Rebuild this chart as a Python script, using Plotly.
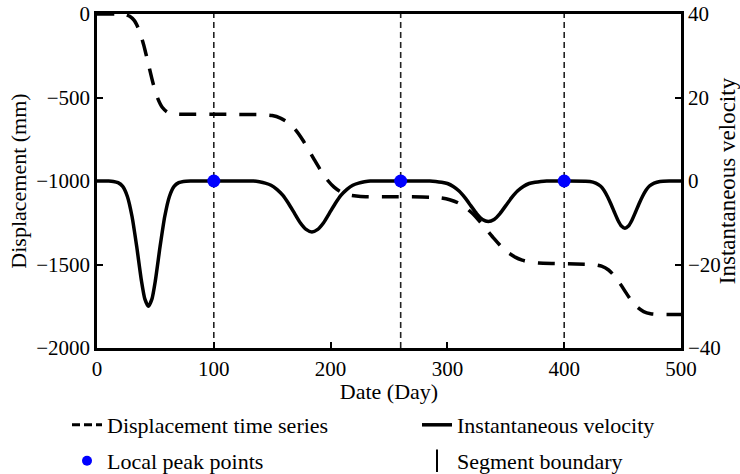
import plotly.graph_objects as go

# ---------------- data ----------------
disp_days = [0, 10, 16, 20, 24, 28, 32, 36, 40, 44, 48, 52, 56, 60, 65, 70, 80, 100, 120,
             140, 150, 157, 164, 170, 176, 181, 186, 192, 198, 203, 208, 215, 222, 230, 250, 270,
             285, 295, 302, 309, 316, 322, 328, 334, 340, 346, 352, 358, 364, 370, 378, 390, 410,
             425, 432, 438, 443, 448, 453, 458, 463, 468, 474, 480, 488, 500]
disp_mm = [0, 0, 0, -1, -4, -14, -40, -95, -185, -300, -415, -505, -560, -586, -597, -600, -600, -600, -601,
           -602, -608, -623, -652, -694, -753, -811, -872, -942, -1000, -1037, -1062, -1082, -1090, -1094, -1095, -1095,
           -1097, -1102, -1112, -1130, -1161, -1198, -1245, -1295, -1345, -1392, -1429, -1456, -1474, -1485, -1491, -1494, -1497,
           -1500, -1510, -1533, -1568, -1616, -1670, -1721, -1758, -1782, -1795, -1799, -1800, -1800]

vel_days = [0, 10, 14, 18, 22, 26, 30, 34, 38, 41, 44, 47, 50, 54, 58, 62, 66, 70, 74, 80,
            100, 120, 134, 139, 144, 149, 154, 159, 164, 169, 174, 179, 184, 189, 194, 199, 204,
            209, 214, 219, 224, 229, 234, 260,
            285, 290, 295, 300, 305, 310, 315, 320, 325, 330, 335, 340, 345, 350, 355, 360, 365,
            370, 375, 380, 385, 400,
            422, 427, 431, 434, 437, 440, 443, 446, 449, 452, 455, 458, 461, 464, 467, 470, 473,
            477, 482, 490, 500]
vel_vals = [0, 0, -0.1, -0.4, -1.3, -3.7, -8.5, -15.7, -23.8, -28.3, -30, -28.3, -23.8, -15.7, -8.5, -3.7, -1.3, -0.4, -0.1, 0,
            0, 0, 0, -0.2, -0.5, -1.0, -2.0, -3.4, -5.4, -7.7, -10.0, -11.6, -12.2, -11.6, -10.0, -7.7, -5.4,
            -3.4, -2.0, -1.0, -0.5, -0.2, 0, 0,
            0, -0.1, -0.3, -0.6, -1.3, -2.4, -4.0, -5.9, -7.8, -9.2, -9.7, -9.2, -7.8, -5.9, -4.0, -2.4, -1.3,
            -0.6, -0.3, -0.1, 0, 0,
            -0.1, -0.5, -1.2, -2.2, -3.7, -5.5, -7.5, -9.4, -10.8, -11.3, -10.8, -9.4, -7.5, -5.5, -3.7, -2.2, -1.2,
            -0.5, -0.1, 0, 0]

peak_days = [100, 260, 400]
peak_vals = [0, 0, 0]
segment_bounds = [100, 260, 400]

x_ticks = [0, 100, 200, 300, 400, 500]
disp_ticks = [0, -500, -1000, -1500, -2000]
vel_ticks = [40, 20, 0, -20, -40]

FONT = "Liberation Serif"

fig = go.Figure()

# displacement (left axis)
fig.add_trace(go.Scatter(x=disp_days, y=disp_mm, mode="lines", yaxis="y",
                         line=dict(color="black", width=3.5, dash="17px,13px", shape="spline", smoothing=0.6),
                         showlegend=False, name="Displacement time series"))
# velocity (right axis)
fig.add_trace(go.Scatter(x=vel_days, y=vel_vals, mode="lines", yaxis="y2",
                         line=dict(color="black", width=3.5, shape="spline", smoothing=0.6),
                         name="Instantaneous velocity", legend="legend2"))
# peaks
fig.add_trace(go.Scatter(x=peak_days, y=peak_vals, mode="markers", yaxis="y2",
                         marker=dict(color="#0000ff", size=13),
                         showlegend=False, name="Local peak points"))
# legend-only entries
fig.add_trace(go.Scatter(x=[None], y=[None], mode="lines", yaxis="y",
                         line=dict(color="black", width=3, dash="8px,4px"),
                         name="Displacement time series", legend="legend"))
fig.add_trace(go.Scatter(x=[None], y=[None], mode="markers", yaxis="y",
                         marker=dict(color="#0000ff", size=10),
                         name="Local peak points", legend="legend3"))
fig.add_trace(go.Scatter(x=[None], y=[None], mode="markers", yaxis="y",
                         marker=dict(symbol="line-ns", size=20, line=dict(color="black", width=2)),
                         name="Segment boundary", legend="legend4"))

for b in segment_bounds:
    fig.add_vline(x=b, line=dict(color="#222222", width=1.6, dash="6px,4px"), layer="below")

axis_common = dict(showgrid=False, zeroline=False, showline=True, linecolor="black", linewidth=2.5,
                   ticks="inside", ticklen=6, tickwidth=2, tickcolor="black", automargin=False,
                   tickfont=dict(family=FONT, size=21, color="black"))

leg_common = dict(orientation="h", xref="container", yref="container", xanchor="left", yanchor="middle",
                  font=dict(family=FONT, size=22, color="black"), bgcolor="rgba(0,0,0,0)", borderwidth=0)

fig.update_layout(
    width=740, height=474,
    margin=dict(l=97, r=59, t=14, b=126, autoexpand=False),
    paper_bgcolor="white", plot_bgcolor="white",
    xaxis=dict(range=[0, 500], tickvals=x_ticks, mirror=True,
               title=dict(text="Date (Day)", font=dict(family=FONT, size=22, color="black"), standoff=2),
               **axis_common),
    yaxis=dict(range=[-2000, 0], tickvals=disp_ticks,
               title=dict(text="Displacement (mm)", font=dict(family=FONT, size=22, color="black"), standoff=4),
               **axis_common),
    yaxis2=dict(range=[-40, 40], tickvals=vel_ticks, overlaying="y", side="right",
                title=dict(text="Instantaneous velocity", font=dict(family=FONT, size=23, color="black"), standoff=2),
                **axis_common),
    legend=dict(x=67 / 740, y=1 - 425 / 474, **leg_common),
    legend2=dict(x=417 / 740, y=1 - 425 / 474, **leg_common),
    legend3=dict(x=67 / 740, y=1 - 461 / 474, **leg_common),
    legend4=dict(x=417 / 740, y=1 - 461 / 474, **leg_common),
)

fig.write_html("out.html",
               config={"displayModeBar": False},
               post_script="document.body.style.margin='0';document.body.style.padding='0';"
                           "document.body.style.overflow='hidden';")
